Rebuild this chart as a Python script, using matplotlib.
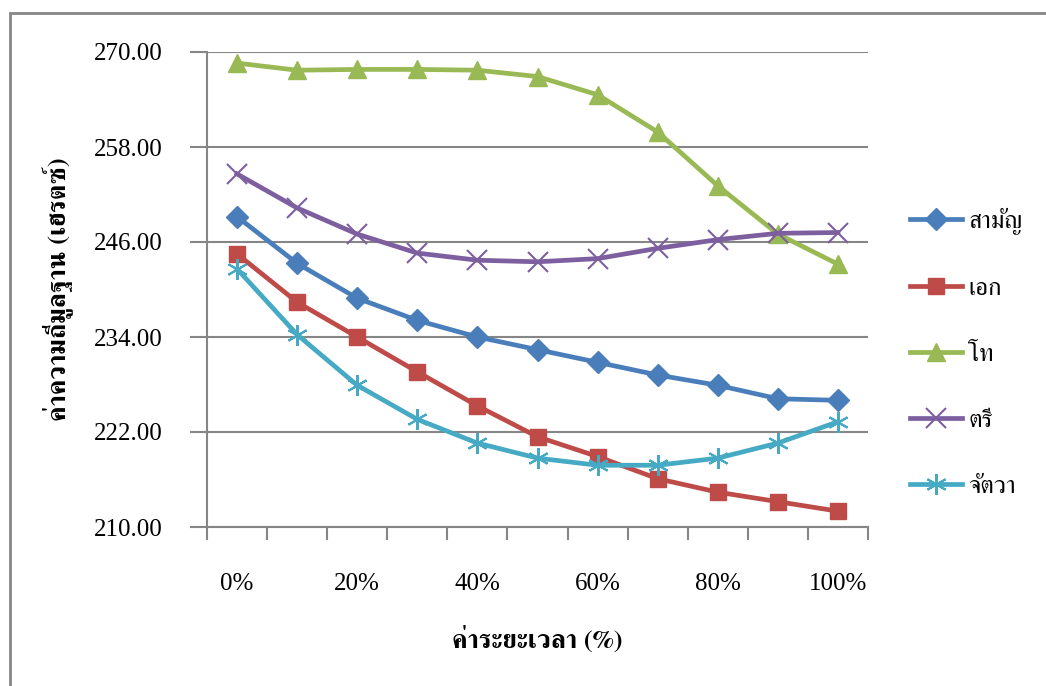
import numpy as np
import matplotlib
matplotlib.use('Agg')
import matplotlib.pyplot as plt
from matplotlib import font_manager as fm
from matplotlib.ft2font import FT2Font
from matplotlib.patches import Rectangle

# data
levels = ['0%', '10%', '20%', '30%', '40%', '50%', '60%', '70%', '80%', '90%', '100%']
tone_names = ['สามัญ', 'เอก', 'โท', 'ตรี', 'จัตวา']
saman = [249.2, 243.3, 238.9, 236.1, 234.0, 232.4, 230.8, 229.2, 227.9, 226.2, 226.0]
ek = [244.5, 238.4, 234.0, 229.6, 225.3, 221.4, 218.9, 216.1, 214.4, 213.2, 212.0]
tho = [268.6, 267.7, 267.8, 267.8, 267.7, 266.9, 264.6, 259.9, 253.1, 247.0, 243.2]
tri = [254.6, 250.3, 247.0, 244.6, 243.7, 243.5, 243.9, 245.2, 246.3, 247.1, 247.2]
chattawa = [242.6, 234.3, 227.9, 223.6, 220.6, 218.7, 217.8, 217.8, 218.7, 220.6, 223.3]
y_ticks = [210, 222, 234, 246, 258, 270]

colors = ['#4A7EBB', '#BE4B48', '#98B954', '#7D5FA0', '#46AAC5']
markers = ['D', 's', '^', 'x', '*']

def find_thai_font():
    # look for any installed font that has thai glyphs
    names = []
    for f in fm.fontManager.ttflist:
        try:
            if 0x0E2A in FT2Font(f.fname).get_charmap():
                names.append(f.name)
        except Exception:
            pass
    for n in names:
        if 'Serif' in n:
            return n
    if names:
        return names[0]
    return 'DejaVu Sans'

thai = find_thai_font()
num_font = 'Liberation Serif'

fig = plt.figure(figsize=(10.46, 6.86), dpi=100)
fig.patches.append(Rectangle((10/1046, -0.05), 1.2, 1 - 13/686 + 0.05,
                             transform=fig.transFigure, fill=False,
                             edgecolor='#868686', linewidth=2, zorder=0))
ax = fig.add_axes([207/1046, 1 - 527/686, 661/1046, 475/686])

x = np.arange(len(levels))
series = [saman, ek, tho, tri, chattawa]
for ii in range(len(series)):
    m = markers[ii]
    ms = 12
    mew = 1
    if m == 'x':
        ms = 14
        mew = 1.5
    if m == '*':
        ms = 15
        mew = 1.5
    if m == '^':
        ms = 13
    if m == 'D':
        ms = 11
    line, = ax.plot(x, series[ii], color=colors[ii], linewidth=3.4, marker=m,
                    markersize=ms, markeredgewidth=mew, markeredgecolor=colors[ii],
                    markerfacecolor=colors[ii], label=tone_names[ii],
                    clip_on=False, zorder=3)
    if m == '*':
        line.set_marker((6, 2, 0))

ax.set_xlim(-0.5, len(levels) - 0.5)
ax.set_ylim(210, 270)
ax.set_yticks(y_ticks)
ax.set_yticklabels(['{:.2f}'.format(v) for v in y_ticks], fontfamily=num_font, fontsize=18)
ax.set_xticks(x[::2])
ax.set_xticklabels(levels[::2], fontfamily=num_font, fontsize=18)
ax.set_xticks(np.arange(-0.5, len(levels), 1.0), minor=True)
ax.tick_params(axis='x', which='major', length=0, pad=33)
ax.tick_params(axis='x', which='minor', length=9, width=1.5, color='#868686', direction='out')
ax.tick_params(axis='y', which='major', length=12, width=1.5, color='#868686', pad=20)
ax.grid(axis='y', color='#868686', linewidth=1.5)
ax.set_axisbelow(True)
for s in ['top', 'right']:
    ax.spines[s].set_visible(False)
for s in ['left', 'bottom']:
    ax.spines[s].set_color('#868686')
    ax.spines[s].set_linewidth(1.5)

ax.set_xlabel('ค่าระยะเวลา (%)', fontfamily=[thai, 'DejaVu Sans'], fontsize=19,
              fontweight='bold', labelpad=22)
ax.set_ylabel('ค่าความถี่มูลฐาน (เฮรตซ์)', fontfamily=[thai, 'DejaVu Sans'], fontsize=19,
              fontweight='bold', labelpad=14)

leg = ax.legend(loc='center left', bbox_to_anchor=(1.063, 0.366), frameon=False,
                prop={'family': [thai, 'DejaVu Sans'], 'size': 18},
                labelspacing=1.68, handlelength=2.1, handletextpad=0.25,
                borderpad=0, borderaxespad=0)

fig.savefig('out.png', dpi=100)
